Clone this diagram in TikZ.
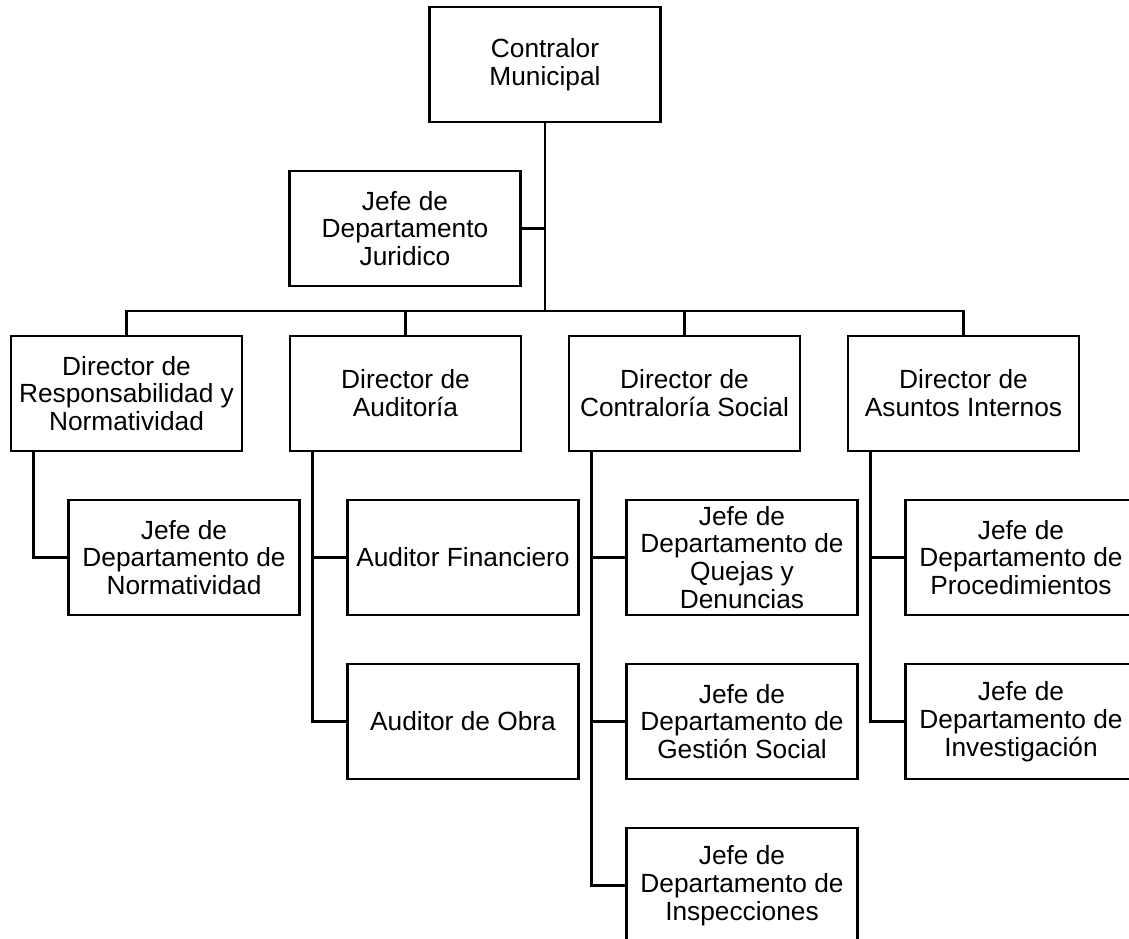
\documentclass[tikz,border=0pt]{standalone}
\usepackage{fontspec}
\setmainfont{Liberation Sans}
\usetikzlibrary{positioning}
\tikzstyle{box} = [rectangle, minimum width=5.775cm, minimum height=2.875cm, inner sep=0pt, text centered, align=center, draw=black, line width=1.6pt, font=\fontsize{18.7}{19.8}\selectfont]
\tikzstyle{line} = [line width=1.6pt]

\begin{document}
\begin{tikzpicture}[node distance=4.1cm]

\useasboundingbox (0,0) rectangle (28.225,-23.475);

% Top - Contralor and Juridico
\node (contralor) [box] at (13.625,-1.6125) {Contralor\\Municipal};
\node (juridico) [box] at (10.125,-5.7125) {Jefe de\\Departamento\\Juridico};
\coordinate (bus) at (13.625,-7.775);

% Row of directors
\node (dirResp) [box] at (3.1625,-9.8375) {Director de\\Responsabilidad y\\Normatividad};
\node (dirAud) [box, right of=dirResp, xshift=2.875cm] {Director de\\Auditoría};
\node (dirCon) [box, right of=dirAud, xshift=2.875cm] {Director de\\Contraloría Social};
\node (dirAsu) [box, right of=dirCon, xshift=2.875cm] {Director de\\Asuntos Internos};

% Column 1
\node (jefeNorm) [box, below of=dirResp, xshift=1.4375cm] {Jefe de\\Departamento de\\Normatividad};

% Column 2
\node (audFin) [box, below of=dirAud, xshift=1.4375cm] {Auditor Financiero};
\node (audObra) [box, below of=audFin] {Auditor de Obra};

% Column 3
\node (jefeQuejas) [box, below of=dirCon, xshift=1.4375cm] {Jefe de\\Departamento de\\Quejas y\\Denuncias};
\node (jefeGest) [box, below of=jefeQuejas] {Jefe de\\Departamento de\\Gestión Social};
\node (jefeInsp) [box, below of=jefeGest] {Jefe de\\Departamento de\\Inspecciones};

% Column 4
\node (jefeProc) [box, below of=dirAsu, xshift=1.4375cm] {Jefe de\\Departamento de\\Procedimientos};
\node (jefeInv) [box, below of=jefeProc] {Jefe de\\Departamento de\\Investigación};

% Top - Lines
\draw [line] (contralor) -- (bus);
\draw [line] (juridico.east) -- (juridico.east -| contralor);
\draw [line] (dirResp.north) |- (bus) -| (dirAsu.north);
\draw [line] (dirAud.north) -- (dirAud.north |- bus);
\draw [line] (dirCon.north) -- (dirCon.north |- bus);

% Columns - Lines
\draw [line] ([xshift=0.59cm]dirResp.south west) |- (jefeNorm.west);
\draw [line] ([xshift=0.59cm]dirAud.south west) |- (audFin.west);
\draw [line] ([xshift=0.59cm]dirAud.south west) |- (audObra.west);
\draw [line] ([xshift=0.59cm]dirCon.south west) |- (jefeQuejas.west);
\draw [line] ([xshift=0.59cm]dirCon.south west) |- (jefeGest.west);
\draw [line] ([xshift=0.59cm]dirCon.south west) |- (jefeInsp.west);
\draw [line] ([xshift=0.59cm]dirAsu.south west) |- (jefeProc.west);
\draw [line] ([xshift=0.59cm]dirAsu.south west) |- (jefeInv.west);

\end{tikzpicture}
\end{document}
